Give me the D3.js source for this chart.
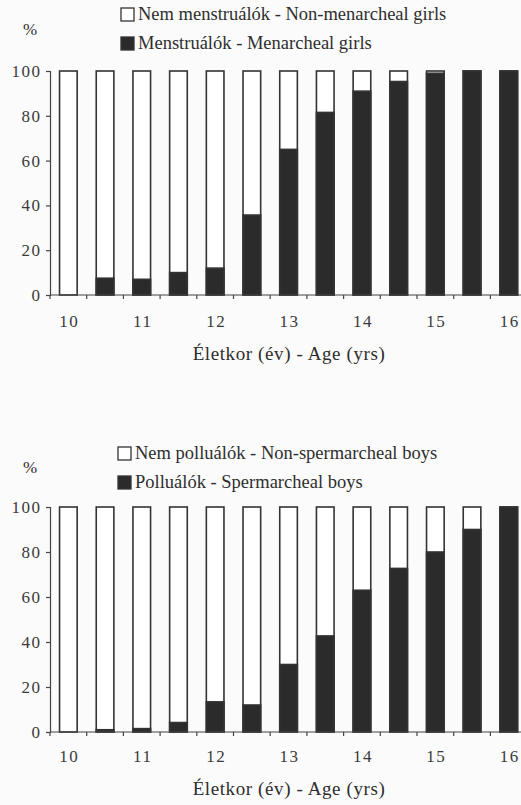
<!DOCTYPE html>
<html><head><meta charset="utf-8">
<script src="https://cdn.jsdelivr.net/npm/d3@7"></script>
</head>
<body style="margin:0;background:#fbfbfb;">
<svg id="chart" width="521" height="805" style="display:block"></svg>
<script>
const ages = ["10","10.5","11","11.5","12","12.5","13","13.5","14","14.5","15","15.5","16"];
const tickLabels = ["10","11","12","13","14","15","16"];
const yTicks = [0,20,40,60,80,100];
const girlsMenarcheal = [0,7.5,7,10,12,35.7,65,81.5,91,95.3,99,100,100];
const boysSpermarcheal = [0,1,1.5,4.2,13.4,12,30,42.7,63,72.7,80,90,100];
const girlsLegend = ["Nem menstruálók - Non-menarcheal girls","Menstruálók - Menarcheal girls"];
const boysLegend = ["Nem polluálók - Non-spermarcheal boys","Polluálók - Spermarcheal boys"];
const xTitle = "Életkor (év) - Age (yrs)";

const FONT = "'Liberation Serif', 'Times New Roman', serif";

const svg = d3.select("#chart");
const dark = "#2b2b2b";
const txtCol = "#2e2e2e";

function drawPanel(cfg){
  const g = svg.append("g");
  const x = d3.scaleBand().domain(ages).range([50, 50+36.7*13]).paddingInner(0.52).paddingOuter(0.26);
  const y = d3.scaleLinear().domain([0,100]).range([cfg.y0, cfg.y100]);

  cfg.legend.forEach((t,i)=>{
    const ly = cfg.legTop + i*29;
    g.append("rect").attr("x",cfg.legX).attr("y",ly).attr("width",13).attr("height",13)
      .attr("fill", i===0 ? "#fff" : dark).attr("stroke","#333").attr("stroke-width",1.3);
    g.append("text").attr("x",cfg.legX+17).attr("y",ly+12).style("font-family",FONT)
      .attr("font-size",18.5).attr("fill",txtCol).text(t);
  });
  g.append("text").attr("x",23).attr("y",cfg.pctY).style("font-family",FONT)
    .attr("font-size",17).attr("fill",txtCol).text("%");

  cfg.values.forEach((v,i)=>{
    const bx = x(ages[i]), bw = x.bandwidth();
    g.append("rect").attr("x",bx).attr("y",y(100)).attr("width",bw).attr("height",y(0)-y(100))
      .attr("fill","#fff").attr("stroke","#333").attr("stroke-width",1.6);
    if(v>0){
      g.append("rect").attr("x",bx).attr("y",y(v)).attr("width",bw).attr("height",y(0)-y(v))
        .attr("fill",dark).attr("stroke","#333").attr("stroke-width",1.6);
    }
  });

  const ya = g.append("g").attr("transform","translate(50,0)")
    .call(d3.axisLeft(y).tickValues(yTicks).tickSize(4).tickPadding(6));
  ya.attr("font-family", null).attr("font-size", null);
  ya.select(".domain").attr("stroke","#444").attr("stroke-width",1.2);
  ya.selectAll(".tick line").attr("stroke","#444").attr("stroke-width",1.2);
  ya.selectAll(".tick text").style("font-family",FONT).attr("font-size",17)
    .attr("letter-spacing","1.5px").attr("fill","#3a3a3a").attr("dx","1.5px");

  const xa = g.append("g").attr("transform",`translate(0,${cfg.y0})`);
  xa.append("line").attr("x1",50).attr("x2",521).attr("stroke","#444").attr("stroke-width",1.2);
  ages.forEach((a,i)=>{
    const bx = 50 + i*36.7;
    xa.append("line").attr("x1",bx).attr("x2",bx).attr("y1",0).attr("y2",4).attr("stroke","#444").attr("stroke-width",1.2);
  });
  tickLabels.forEach(t=>{
    xa.append("text").attr("x",x(t)+x.bandwidth()/2+1).attr("y",cfg.xLabY-cfg.y0)
      .attr("text-anchor","middle").style("font-family",FONT).attr("font-size",17)
      .attr("letter-spacing","1.5px").attr("fill","#3a3a3a").text(t);
  });
  g.append("text").attr("x",289).attr("y",cfg.titleY).attr("text-anchor","middle")
    .style("font-family",FONT).attr("font-size",19).attr("letter-spacing","0.6px")
    .attr("fill",txtCol).text(xTitle);
}

drawPanel({values:girlsMenarcheal, legend:girlsLegend, y0:295, y100:71, legTop:8, legX:121, pctY:35, xLabY:327, titleY:360});
drawPanel({values:boysSpermarcheal, legend:boysLegend, y0:732, y100:507, legTop:447, legX:118, pctY:473, xLabY:762, titleY:795});
</script>
</body></html>
